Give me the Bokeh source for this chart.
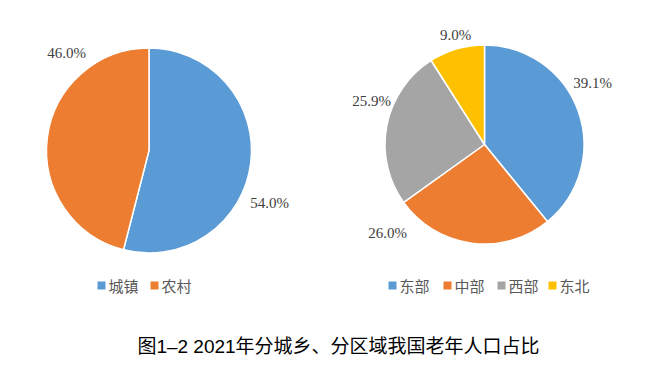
import math
from bokeh.plotting import figure
from bokeh.models import Range1d, ColumnDataSource
from bokeh.core.properties import value
from bokeh.embed import file_html
from bokeh.resources import INLINE

# ---- data ----
left_categories = ["城镇", "农村"]
left_values = [54.0, 46.0]
right_categories = ["东部", "中部", "西部", "东北"]
right_values = [39.1, 26.0, 25.9, 9.0]
title_text = "图1–2 2021年分城乡、分区域我国老年人口占比"

# ---- style / layout ----
colors = ["#5B9BD5", "#ED7D31", "#A5A5A5", "#FFC000"]
W, H = 660, 378
left_center = (148.5, 150.0)   # pixel coords (y from top)
left_radius = 102.5
right_center = (484.0, 144.0)
right_radius = 99.5
left_label_pos = [(269, 202), (66, 52)]
right_label_pos = [(592, 82), (387, 232), (371, 100), (455, 34)]
left_legend_x = [101, 154]
right_legend_x = [392, 447, 501, 552]
legend_y = 285

p = figure(width=W, height=H, output_backend="svg", toolbar_location=None,
           x_range=Range1d(0, W), y_range=Range1d(0, H), min_border=0)
p.axis.visible = False
p.grid.visible = False
p.outline_line_color = None
p.background_fill_color = "white"
p.border_fill_color = "white"


def fy(py):
    return H - py


def draw_pie(cats, vals, center, radius, label_pos, legend_xs):
    total = sum(vals)
    starts, ends = [], []
    c = 0.0
    for v in vals:
        starts.append(math.pi / 2 - 2 * math.pi * c / total)
        c += v
        ends.append(math.pi / 2 - 2 * math.pi * c / total)
    src = ColumnDataSource(dict(
        x=[center[0]] * len(vals), y=[fy(center[1])] * len(vals),
        start=starts, end=ends, color=colors[:len(vals)]))
    p.wedge(x="x", y="y", radius=radius, start_angle="start", end_angle="end",
            direction="clock", fill_color="color", line_color="white",
            line_width=1.5, source=src)
    lab = ColumnDataSource(dict(
        x=[q[0] for q in label_pos], y=[fy(q[1]) for q in label_pos],
        t=["%.1f%%" % v for v in vals]))
    p.text(x="x", y="y", text="t", source=lab, text_align="center",
           text_baseline="middle", text_font=value("Liberation Serif"),
           text_font_size="15px", text_color="#404040")
    leg = ColumnDataSource(dict(
        x=legend_xs, y=[fy(legend_y)] * len(vals),
        tx=[lx + 7 for lx in legend_xs], t=cats, color=colors[:len(vals)]))
    p.scatter(x="x", y="y", marker="square", size=8, fill_color="color",
              line_color=None, source=leg)
    p.text(x="tx", y="y", text="t", source=leg, text_align="left",
           text_baseline="middle", text_font=value("Noto Sans CJK SC"),
           text_font_size="15px", text_color="#595959")


draw_pie(left_categories, left_values, left_center, left_radius,
         left_label_pos, left_legend_x)
draw_pie(right_categories, right_values, right_center, right_radius,
         right_label_pos, right_legend_x)

p.text(x=[338], y=[fy(346)], text=[title_text], text_align="center",
       text_baseline="middle",
       text_font=value("Liberation Sans, Noto Sans CJK SC"),
       text_font_size="19px", text_color="#000000")

open("out.html", "w").write(file_html(p, INLINE))
